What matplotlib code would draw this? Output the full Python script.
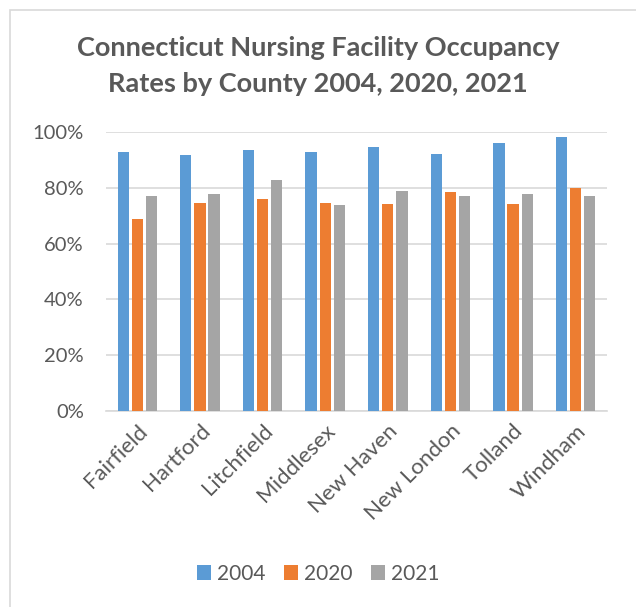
import matplotlib.pyplot as plt
import numpy as np
from matplotlib.patches import Rectangle
from matplotlib.ticker import PercentFormatter

counties = ['Fairfield', 'Hartford', 'Litchfield', 'Middlesex',
            'New Haven', 'New London', 'Tolland', 'Windham']
rate_2004 = [92.9, 91.7, 93.4, 93.0, 94.7, 92.2, 96.0, 98.1]
rate_2020 = [68.9, 74.5, 75.9, 74.4, 74.2, 78.4, 74.1, 79.9]
rate_2021 = [76.9, 77.8, 82.9, 73.9, 78.9, 76.9, 77.8, 76.9]
years = ['2004', '2020', '2021']

plt.rcParams['font.family'] = ['Lato', 'DejaVu Sans']
text_col = '#595959'

fig = plt.figure(figsize=(6.36, 6.07), dpi=100)
ax = fig.add_axes([106 / 636, 1 - 411 / 607, 501 / 636, 279 / 607])

# light frame around the chart like the Excel chart area
fig.patches.append(Rectangle((10 / 636, -0.05), 1.1, 1 - 10 / 607 + 0.05,
                             transform=fig.transFigure, fill=False,
                             edgecolor='#D9D9D9', linewidth=1.2))

x = np.arange(len(counties))
w = 0.18
step = 0.225
colors = ['#5B9BD5', '#ED7D31', '#A5A5A5']
for i, (vals, c, lab) in enumerate(zip([rate_2004, rate_2020, rate_2021], colors, years)):
    ax.bar(x + (i - 1) * step, vals, width=w, color=c, label=lab, zorder=3)

ax.set_xlim(-0.5, len(counties) - 0.5)
ax.set_ylim(0, 100)
ax.set_yticks(np.arange(0, 101, 20))
ax.yaxis.set_major_formatter(PercentFormatter(decimals=0))
ax.grid(axis='y', color='#D9D9D9', linewidth=1.2, zorder=0)
for s in ['top', 'right', 'left']:
    ax.spines[s].set_visible(False)
ax.spines['bottom'].set_color('#D9D9D9')
ax.spines['bottom'].set_linewidth(1.2)
ax.tick_params(length=0, colors=text_col)
ax.tick_params(axis='y', pad=16, labelsize=14.5)
ax.tick_params(axis='x', pad=7, labelsize=16)
ax.set_xticks(x)
ax.set_xticklabels(counties, rotation=45, ha='right', rotation_mode='anchor')

fig.text(0.5, 1 - 66 / 607, 'Connecticut Nursing Facility Occupancy\nRates by County 2004, 2020, 2021',
         ha='center', va='center', fontsize=19.5, fontweight='bold', color=text_col,
         linespacing=1.55)

fig.legend(loc='center', bbox_to_anchor=(0.5, 1 - 574 / 607), ncol=3, frameon=False,
           fontsize=15, labelcolor=text_col, handlelength=0.7, handleheight=0.7,
           handletextpad=0.25, columnspacing=0.9)

fig.savefig('out.png', dpi=100)
